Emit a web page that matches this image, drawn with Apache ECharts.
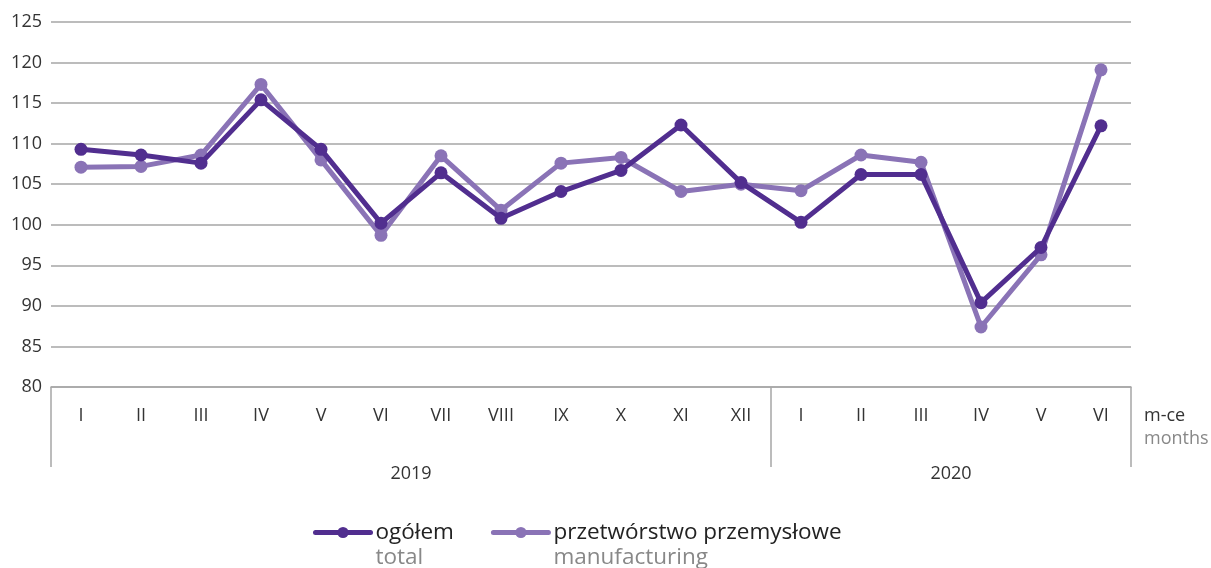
<!DOCTYPE html>
<html>
<head>
<meta charset="utf-8">
<script src="https://cdn.jsdelivr.net/npm/echarts@6/dist/echarts.min.js"></script>
<style>
  html, body { margin: 0; padding: 0; background: #fff; }
  #chart { width: 1211px; height: 568px; }
</style>
</head>
<body>
<div id="chart"></div>
<script>
// months (2019 I-XII, 2020 I-VI)
var months = ['I','II','III','IV','V','VI','VII','VIII','IX','X','XI','XII','I','II','III','IV','V','VI'];
var years = ['2019', '2020'];
var monthsPerYear = [12, 6];

var total = [109.3,108.6,107.6,115.4,109.3,100.2,106.4,100.8,104.1,106.7,112.3,105.2,100.3,106.2,106.2,90.4,97.2,112.2];
var manufacturing = [107.1,107.2,108.6,117.3,108.0,98.7,108.5,101.8,107.6,108.3,104.1,105.0,104.2,108.6,107.7,87.4,96.3,119.1];

var yTicks = [80, 85, 90, 95, 100, 105, 110, 115, 120, 125];

// granice lat i srodki etykiet
var bounds = [0];
var centers = [];
for (var i = 0; i < monthsPerYear.length; i++) {
    centers.push(bounds[i] + monthsPerYear[i] / 2);
    bounds.push(bounds[i] + monthsPerYear[i]);
}

var dark = '#512e8f';
var light = '#8a73b6';
var font = '"Open Sans", "Noto Sans", sans-serif';
var gridColor = '#a6a6a6';

var chart = echarts.init(document.getElementById('chart'));

var option = {
    animation: false,
    textStyle: { fontFamily: font },
    title: {
        text: 'm-ce',
        subtext: 'months',
        left: 1144,
        top: 407,
        itemGap: 5,
        padding: 0,
        textStyle: { fontSize: 18, fontWeight: 'normal', color: '#333', fontFamily: font },
        subtextStyle: { fontSize: 18, color: '#888', fontFamily: font }
    },
    legend: {
        left: 308,
        top: 516,
        itemWidth: 55,
        itemHeight: 14,
        itemGap: 37,
        data: ['ogółem', 'przetwórstwo przemysłowe'],
        lineStyle: { width: 5, cap: 'round' },
        formatter: function (name) {
            var en = name === 'ogółem' ? 'total' : 'manufacturing';
            return '{a|' + name + '}\n{b|' + en + '}';
        },
        textStyle: {
            padding: [25, 0, 0, 0],
            rich: {
                a: { fontSize: 22.5, color: '#222', lineHeight: 25, fontFamily: font },
                b: { fontSize: 22.5, color: '#888', lineHeight: 25, fontFamily: font }
            }
        }
    },
    grid: {
        left: 51,
        right: 80,
        top: 22,
        bottom: 181
    },
    xAxis: [
        {
            type: 'category',
            data: months,
            boundaryGap: true,
            axisLine: { lineStyle: { color: gridColor, width: 1.5 } },
            axisTick: { show: false },
            axisLabel: { color: '#333', fontSize: 18, margin: 20, interval: 0, fontFamily: font }
        },
        {
            type: 'value',
            position: 'bottom',
            min: 0,
            max: bounds[bounds.length - 1],
            axisLine: { show: false },
            splitLine: { show: false },
            axisTick: {
                show: true,
                customValues: bounds,
                length: 80,
                lineStyle: { color: gridColor, width: 1.5 }
            },
            axisLabel: {
                show: true,
                customValues: centers,
                margin: 78,
                color: '#333',
                fontSize: 18,
                fontFamily: font,
                formatter: function (v) {
                    var idx = centers.indexOf(v);
                    return idx >= 0 ? years[idx] : '';
                }
            }
        }
    ],
    yAxis: {
        type: 'value',
        min: yTicks[0],
        max: yTicks[yTicks.length - 1],
        interval: 5,
        axisLine: { show: false },
        axisTick: { show: false },
        axisLabel: { color: '#333', fontSize: 18, margin: 9, fontFamily: font },
        splitLine: { lineStyle: { color: gridColor, width: 1.5 } }
    },
    series: [
        {
            name: 'ogółem',
            type: 'line',
            data: total,
            z: 3,
            symbol: 'circle',
            symbolSize: 13,
            itemStyle: { color: dark },
            lineStyle: { color: dark, width: 5 }
        },
        {
            name: 'przetwórstwo przemysłowe',
            type: 'line',
            data: manufacturing,
            z: 2,
            symbol: 'circle',
            symbolSize: 13,
            itemStyle: { color: light },
            lineStyle: { color: light, width: 5 }
        }
    ]
};

chart.setOption(option);
</script>
</body>
</html>
